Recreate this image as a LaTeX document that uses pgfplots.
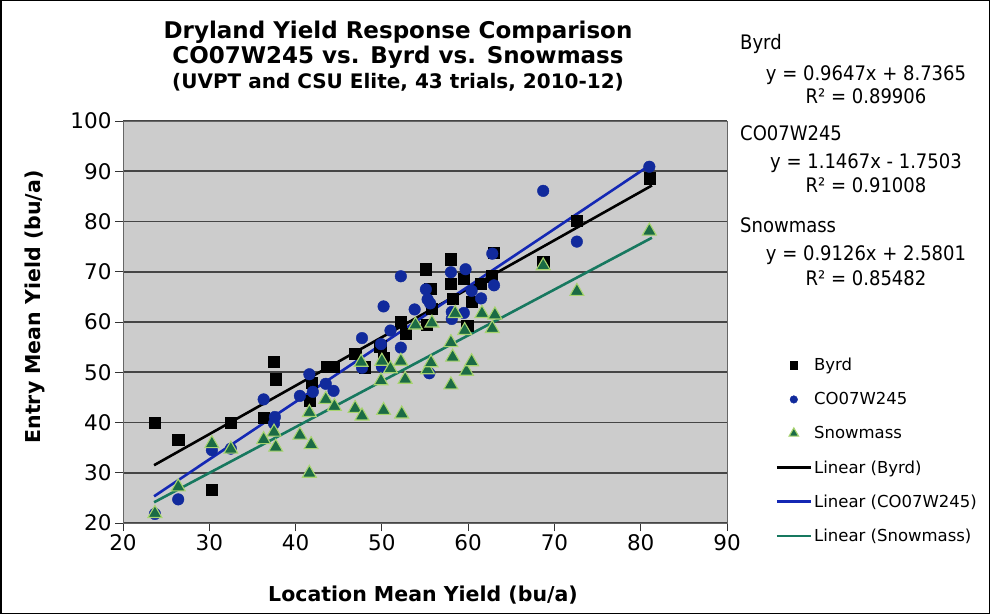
\documentclass[border=0pt]{standalone}
\usepackage{pgfplots}
\pgfplotsset{compat=1.18}
\usepackage{fontspec}
\setmainfont{DejaVu Sans}
\newfontfamily\tah{DejaVu Sans Condensed}
\newfontfamily\vbold{DejaVu Sans}
\definecolor{bgc}{HTML}{CCCCCC}
\definecolor{gridc}{HTML}{454545}
\definecolor{circ}{HTML}{112A9C}
\definecolor{bline}{HTML}{1428B4}
\definecolor{trif}{HTML}{1B6B45}
\definecolor{trie}{HTML}{A8D46F}
\definecolor{gline}{HTML}{17785F}
\pgfplotstableread{
x y
23.7 39.9
26.4 36.6
30.3 26.6
32.5 39.9
36.3 41.0
37.5 52.1
37.7 48.6
41.6 44.3
41.9 48.0
43.6 51.1
44.4 51.1
46.9 53.7
48.0 51.0
50.2 52.9
49.8 55.2
52.2 60.1
52.8 57.6
55.2 59.4
55.1 70.5
55.6 66.7
55.8 62.7
58.0 72.5
58.0 67.6
58.2 64.7
59.5 68.6
59.9 59.3
60.4 64.1
61.5 67.6
62.7 69.1
63.0 73.8
68.7 72.0
72.6 80.1
81.0 88.6
}\byrd
\pgfplotstableread{
x y
23.7 21.8
26.4 24.7
30.3 34.5
32.5 34.8
36.3 44.6
37.6 41.1
37.5 39.8
40.5 45.3
41.6 49.6
42.0 46.1
43.5 47.7
44.4 46.3
47.7 56.8
47.7 50.9
49.9 55.6
50.0 51.1
50.2 63.1
51.0 58.3
52.2 54.9
52.2 69.1
53.8 62.5
55.1 66.5
55.3 64.5
55.6 63.7
55.5 49.8
58.0 69.9
58.1 62.0
58.1 60.6
59.7 70.5
59.5 61.8
60.4 66.2
61.5 64.7
62.8 73.6
63.0 67.3
68.7 86.1
72.6 76.0
81.0 90.9
}\coo
\pgfplotstableread{
x y
23.7 21.9
26.4 27.2
30.3 35.8
32.5 34.7
36.3 36.6
37.5 38.1
37.7 35.1
40.5 37.5
41.8 35.6
41.6 29.9
41.6 42.0
43.5 44.6
44.5 43.2
46.9 42.8
47.7 41.3
47.6 52.0
49.9 48.3
50.0 52.2
50.2 42.4
51.0 50.7
52.2 52.2
52.3 41.7
52.7 48.6
53.9 59.4
55.3 50.5
55.7 51.9
55.8 59.8
58.0 47.5
58.0 55.9
58.2 53.0
58.5 61.7
59.6 58.3
59.8 50.2
60.4 52.1
61.6 61.7
62.8 58.7
63.1 61.4
68.7 71.2
72.6 66.1
81.0 78.1
}\snow
\begin{document}
\begin{tikzpicture}[x=1pt,y=1pt]
\useasboundingbox (0,0) rectangle (990,614);
\fill[white] (0,0) rectangle (990,614);
\draw[black,line width=1.5pt] (0.75,0.75) rectangle (989.25,613.25);
\begin{axis}[
  at={(123pt,91pt)}, anchor=south west,
  scale only axis, width=604pt, height=402pt,
  xmin=20, xmax=90, ymin=20, ymax=100,
  xtick={20,30,...,90}, ytick={20,30,...,100},
  axis background/.style={fill=bgc},
  ymajorgrids, grid style={gridc, line width=1.6pt},
  axis line style={gray!80!black, line width=1pt},
  tick align=outside, major tick length=8pt,
  xtick pos=bottom, ytick pos=left,
  tick style={black!80, line width=1pt},
  /pgf/number format/assume math mode=true,
  tick label style={font=\fontsize{21.5}{24}\selectfont},
  legend style={at={(1.08,0.42)}, anchor=north west, draw=none, fill=none,
    font=\fontsize{16.5}{19}\selectfont, row sep=16.2pt, inner xsep=0pt},
  legend cell align=left,
  legend image code/.code={\draw[mark repeat=2,mark phase=2,#1] plot coordinates {(0pt,0pt) (17pt,0pt) (34pt,0pt)};},
  legend image post style={mark size=3.8pt},
  clip=false,
]
\addplot[only marks, mark=square*, mark size=5.6pt, black] table {\byrd};
\addlegendentry{Byrd}
\addplot[only marks, mark=*, mark size=5.8pt, circ] table {\coo};
\addlegendentry{CO07W245}
\addplot[only marks, mark=triangle*, mark size=8pt, mark options={fill=trif, draw=trie, line width=1.1pt}, legend image post style={mark size=5.5pt}] table {\snow};
\addlegendentry{Snowmass}
\addplot[black, line width=2.6pt, mark=none] coordinates {(23.6,31.50) (81.3,87.17)};
\addlegendentry{Linear (Byrd)}
\addplot[bline, line width=2.6pt, mark=none] coordinates {(23.6,25.31) (81.3,91.48)};
\addlegendentry{Linear (CO07W245)}
\addplot[gline, line width=2.6pt, mark=none] coordinates {(23.6,24.12) (81.3,76.77)};
\addlegendentry{Linear (Snowmass)}
\end{axis}
% titles
\node[font=\vbold\bfseries\fontsize{23}{25}\selectfont] at (398,582) {Dryland Yield Response Comparison};
\node[font=\vbold\bfseries\fontsize{23}{25}\selectfont] at (398,557) {CO07W245 vs. Byrd vs. Snowmass};
\node[font=\vbold\bfseries\fontsize{20}{22}\selectfont] at (398,532) {(UVPT and CSU Elite, 43 trials, 2010-12)};
\node[font=\vbold\bfseries\fontsize{20.5}{24}\selectfont, rotate=90] at (35,307) {Entry Mean Yield (bu/a)};
\node[font=\vbold\bfseries\fontsize{20.5}{24}\selectfont] at (423,19) {Location Mean Yield (bu/a)};
% trendline equations
\begin{scope}[every node/.style={font=\tah\fontsize{20}{22}\selectfont, inner sep=0pt}]
\node[anchor=west] at (740,570) {Byrd};
\node at (866,539) {y = 0.9647x + 8.7365};
\node at (866,518) {R² = 0.89906};
\node[anchor=west] at (740,481) {CO07W245};
\node at (866,451) {y = 1.1467x - 1.7503};
\node at (866,429) {R² = 0.91008};
\node[anchor=west] at (740,389) {Snowmass};
\node at (866,359) {y = 0.9126x + 2.5801};
\node at (866,336) {R² = 0.85482};
\end{scope}
\end{tikzpicture}
\end{document}
